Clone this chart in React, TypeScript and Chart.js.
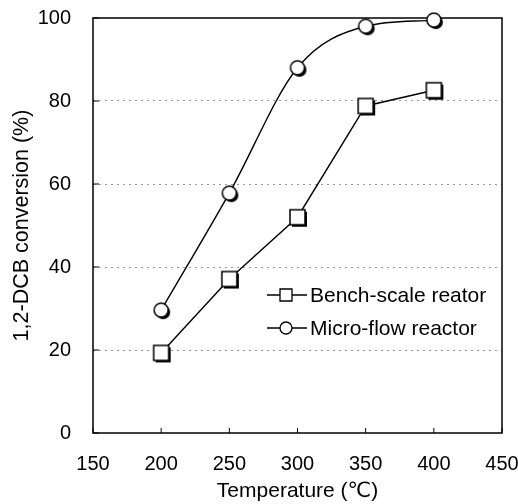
import { useEffect, useRef } from 'react';
import { Chart, registerables } from 'chart.js';

Chart.register(...registerables);

// ---- data ----
const temperatures = [200, 250, 300, 350, 400];
const benchScale = [19.3, 37.1, 52, 78.8, 82.6];
const microFlow = [29.6, 57.8, 88, 98, 99.5];
const seriesLabels = ['Bench-scale reator', 'Micro-flow reactor'];
const xTicks = [150, 200, 250, 300, 350, 400, 450];
const yTicks = [0, 20, 40, 60, 80, 100];
const xTitle = 'Temperature (\u2103)';
const yTitle = '1,2-DCB conversion (%)';

const FONT = "'Liberation Sans', Arial, 'DejaVu Sans', sans-serif";

function shapePath(ctx: CanvasRenderingContext2D, kind: string, cx: number, cy: number, size: number) {
  ctx.beginPath();
  if (kind === 'rect') {
    ctx.rect(cx - size / 2, cy - size / 2, size, size);
  } else {
    ctx.arc(cx, cy, size / 2, 0, Math.PI * 2);
  }
}

function makeMarker(kind: string, size: number, shadow: number) {
  const c = document.createElement('canvas');
  const dim = Math.ceil(size + shadow * 2 + 4);
  c.width = dim;
  c.height = dim;
  const ctx = c.getContext('2d')!;
  const cx = dim / 2;
  const cy = dim / 2;
  ctx.fillStyle = '#000';
  shapePath(ctx, kind, cx + shadow, cy + shadow, size);
  ctx.fill();
  shapePath(ctx, kind, cx, cy, size);
  ctx.fillStyle = '#fff';
  ctx.fill();
  ctx.lineWidth = 1.5;
  ctx.strokeStyle = '#000';
  ctx.stroke();
  return c;
}

const kinds = ['rect', 'circle'];

const framePlugin = {
  id: 'frame',
  beforeDatasetsDraw(chart: any) {
    const { ctx, chartArea } = chart;
    const { left, right, top, bottom } = chartArea;
    ctx.save();
    ctx.strokeStyle = '#000';
    ctx.lineWidth = 1.5;
    ctx.strokeRect(left, top, right - left, bottom - top);
    // inward ticks
    ctx.lineWidth = 1;
    const ys = chart.scales.y;
    ys.ticks.forEach((t: any) => {
      const py = ys.getPixelForValue(t.value);
      ctx.beginPath();
      ctx.moveTo(left, py);
      ctx.lineTo(left + 6, py);
      ctx.stroke();
    });
    const xs = chart.scales.x;
    xs.ticks.forEach((t: any) => {
      const px = xs.getPixelForValue(t.value);
      ctx.beginPath();
      ctx.moveTo(px, bottom);
      ctx.lineTo(px, bottom - 5);
      ctx.stroke();
    });
    ctx.restore();
  },
};

const legendPlugin = {
  id: 'customLegend',
  afterDraw(chart: any) {
    const { ctx, chartArea } = chart;
    const x0 = chartArea.left + 174;
    const y0 = chartArea.top + 277;
    const rowGap = 33;
    ctx.save();
    chart.data.datasets.forEach((ds: any, i: number) => {
      const y = y0 + i * rowGap;
      ctx.strokeStyle = '#000';
      ctx.lineWidth = 1.3;
      ctx.beginPath();
      ctx.moveTo(x0, y);
      ctx.lineTo(x0 + 40, y);
      ctx.stroke();
      shapePath(ctx, kinds[i], x0 + 19, y, 12);
      ctx.fillStyle = '#fff';
      ctx.fill();
      ctx.lineWidth = 1.3;
      ctx.stroke();
      ctx.fillStyle = '#000';
      ctx.font = `21px ${FONT}`;
      ctx.textBaseline = 'middle';
      ctx.textAlign = 'left';
      ctx.fillText(ds.label, x0 + 43, y + 1);
    });
    ctx.restore();
  },
};

export default function App() {
  const ref = useRef<HTMLCanvasElement | null>(null);

  useEffect(() => {
    if (!ref.current) return;
    const benchMarker = makeMarker('rect', 15, 2);
    const microMarker = makeMarker('circle', 14, 2);
    const chart = new Chart(ref.current, {
      type: 'line',
      data: {
        datasets: [
          {
            label: seriesLabels[0],
            data: temperatures.map((t, i) => ({ x: t, y: benchScale[i] })),
            borderColor: '#000',
            borderWidth: 1.4,
            pointStyle: benchMarker as any,
            pointRadius: 8,
            tension: 0,
            clip: false as any,
          },
          {
            label: seriesLabels[1],
            data: temperatures.map((t, i) => ({ x: t, y: microFlow[i] })),
            borderColor: '#000',
            borderWidth: 1.4,
            pointStyle: microMarker as any,
            pointRadius: 8,
            cubicInterpolationMode: 'monotone',
            clip: false as any,
          },
        ],
      },
      options: {
        responsive: false,
        animation: false,
        layout: { autoPadding: false, padding: { top: 18, right: 16, bottom: 0, left: 0 } },
        plugins: {
          legend: { display: false },
          tooltip: { enabled: false },
        },
        scales: {
          x: {
            type: 'linear',
            min: xTicks[0],
            max: xTicks[xTicks.length - 1],
            afterBuildTicks: (s: any) => {
              s.ticks = xTicks.map((v) => ({ value: v }));
            },
            afterFit: (s: any) => {
              s.height = 71;
              s.paddingLeft = 0;
              s.paddingRight = 0;
            },
            grid: { display: false, drawTicks: false },
            border: { display: false },
            ticks: {
              color: '#000',
              font: { family: FONT, size: 20 },
              padding: 19,
              maxRotation: 0,
            },
            title: {
              display: true,
              text: xTitle,
              color: '#000',
              font: { family: FONT, size: 21 },
              padding: { top: 0, bottom: 0 },
            },
          },
          y: {
            type: 'linear',
            min: yTicks[0],
            max: yTicks[yTicks.length - 1],
            afterBuildTicks: (s: any) => {
              s.ticks = yTicks.map((v) => ({ value: v }));
            },
            afterFit: (s: any) => {
              s.width = 93;
              s.paddingTop = 0;
              s.paddingBottom = 0;
            },
            grid: {
              drawTicks: false,
              color: (c: any) =>
                c.tick && (c.tick.value === yTicks[0] || c.tick.value === yTicks[yTicks.length - 1])
                  ? 'rgba(0,0,0,0)'
                  : '#9a9a9a',
              lineWidth: 1,
            },
            border: { display: false, dash: [2, 4] },
            ticks: {
              color: '#000',
              font: { family: FONT, size: 20 },
              padding: 22,
            },
            title: {
              display: true,
              text: yTitle,
              color: '#000',
              font: { family: FONT, size: 21.5 },
              padding: { top: 9, bottom: 0 },
            },
          },
        },
      },
      plugins: [framePlugin, legendPlugin],
    });
    return () => chart.destroy();
  }, []);

  return (
    <canvas
      ref={ref}
      width={518}
      height={504}
      style={{ position: 'absolute', left: 0, top: 0, display: 'block', background: '#fff' }}
    />
  );
}
